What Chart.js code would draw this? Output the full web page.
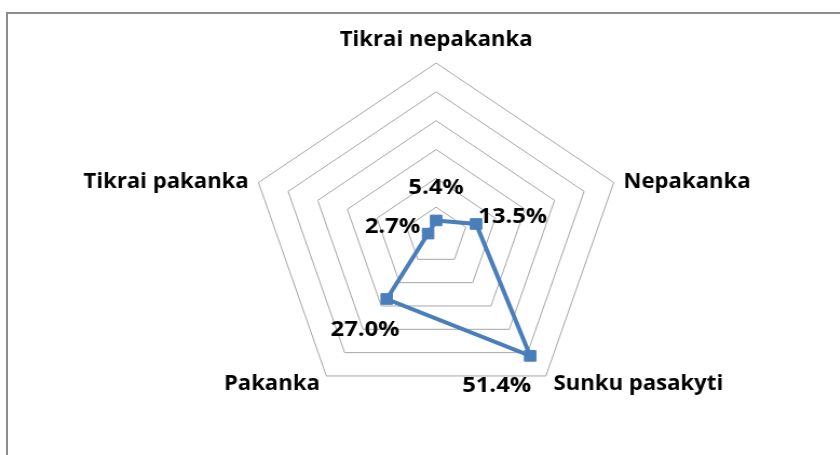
<!DOCTYPE html>
<html>
<head>
<meta charset="utf-8">
<script src="https://cdn.jsdelivr.net/npm/chart.js@4"></script>
<style>
    html, body { margin: 0; padding: 0; background: #fff; overflow: hidden; }
    body { width: 840px; height: 455px; position: relative; }
    #frame {
        position: absolute; left: 6px; top: 12px; width: 850px; height: 460px;
        border-top: 2px solid #8c8c8c; border-left: 2px solid #8c8c8c;
    }
    /* the original picture is stretched a little horizontally */
    #wrap {
        position: absolute; left: 0; top: 0; width: 778px; height: 455px;
        transform: scaleX(1.0795); transform-origin: 0 0;
    }
</style>
</head>
<body>
<div id="frame"></div>
<div id="wrap"><canvas id="radarChart" width="778" height="455"></canvas></div>
<script>
// Data
const categories = ['Tikrai nepakanka', 'Nepakanka', 'Sunku pasakyti', 'Pakanka', 'Tikrai pakanka'];
const shares = [5.4, 13.5, 51.4, 27.0, 2.7];
const valueLabels = ['5.4%', '13.5%', '51.4%', '27.0%', '2.7%'];
const scaleMax = 60;
const scaleStep = 10;

const labelFont = 'bold 20.5px "Open Sans"';
const valueFont = 'bold 22px "Open Sans"';

// category labels: align + offset from the outer vertex
const catPlacement = [
    { align: 'center', dx: 0, dy: -17 },
    { align: 'left', dx: 9, dy: 5 },
    { align: 'left', dx: 7, dy: 14 },
    { align: 'right', dx: -6, dy: 14 },
    { align: 'right', dx: -9, dy: 5 }
];
// value labels: offset of the text centre/baseline from the point
const valuePlacement = [
    { dx: 0, dy: -26 },
    { dx: 34, dy: -1 },
    { dx: -31, dy: 36 },
    { dx: -20, dy: 37 },
    { dx: -33, dy: -1 }
];

const radarLabels = {
    id: 'radarLabels',
    afterDatasetsDraw(chart) {
        const ctx = chart.ctx;
        const scale = chart.scales.r;
        ctx.save();
        ctx.fillStyle = '#000';
        ctx.textBaseline = 'alphabetic';

        ctx.font = labelFont;
        categories.forEach((name, i) => {
            const p = scale.getPointPosition(i, scale.drawingArea);
            ctx.textAlign = catPlacement[i].align;
            ctx.fillText(name, p.x + catPlacement[i].dx, p.y + catPlacement[i].dy);
        });

        ctx.font = valueFont;
        ctx.textAlign = 'center';
        const meta = chart.getDatasetMeta(0);
        meta.data.forEach((pt, i) => {
            ctx.fillText(valueLabels[i], pt.x + valuePlacement[i].dx, pt.y + valuePlacement[i].dy);
        });
        ctx.restore();
    }
};

const radarCtx = document.getElementById('radarChart').getContext('2d');
const radarChart = new Chart(radarCtx, {
    type: 'radar',
    data: {
        labels: categories,
        datasets: [
            {
                label: 'Dalis',
                data: shares,
                borderColor: '#4a7ebb',
                backgroundColor: '#4a7ebb',
                borderWidth: 4,
                fill: false,
                tension: 0,
                pointStyle: 'rect',
                pointRadius: 7.5,
                pointBackgroundColor: '#4a7ebb',
                pointBorderColor: '#4a7ebb',
                pointBorderWidth: 1
            }
        ]
    },
    options: {
        responsive: false,
        animation: false,
        layout: {
            padding: { top: 63, bottom: 45, left: 100, right: 69 }
        },
        scales: {
            r: {
                min: 0,
                max: scaleMax,
                ticks: { display: false, stepSize: scaleStep },
                angleLines: { display: false },
                grid: { color: '#a6a6a6', lineWidth: 1 },
                pointLabels: { display: false }
            }
        },
        plugins: {
            legend: { display: false },
            tooltip: { enabled: false }
        }
    },
    plugins: [radarLabels]
});
</script>
</body>
</html>
